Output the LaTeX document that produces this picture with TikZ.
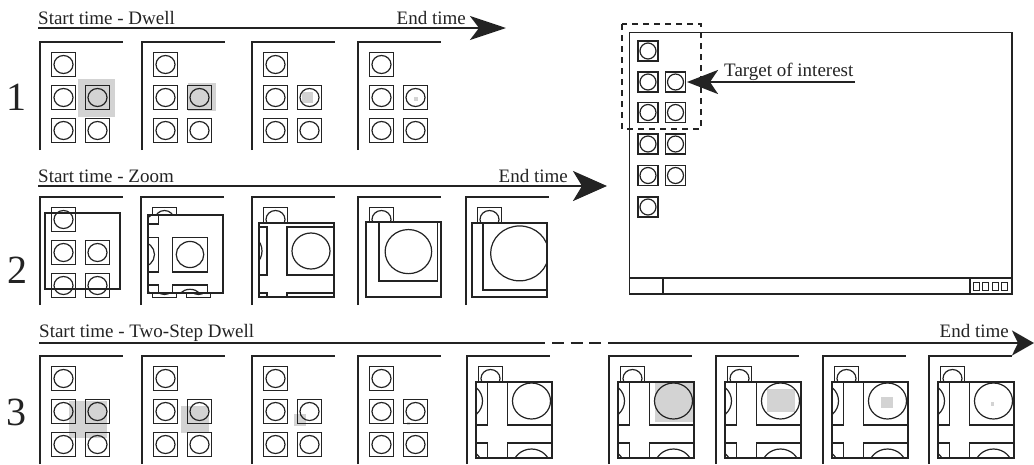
\documentclass[tikz,border=0pt]{standalone}
\usepackage{fontspec}
\setmainfont{Liberation Serif}
\usetikzlibrary{arrows.meta}
\definecolor{hl}{RGB}{211,211,211}
\definecolor{ink}{RGB}{35,35,35}
\tikzset{
  frm/.style={draw=ink, line width=1.3pt},
  ico/.style={draw=ink, line width=1.2pt},
  lbl/.style={inner sep=0pt, text=ink, font=\fontsize{19}{21}\selectfont},
  num/.style={inner sep=0pt, text=ink, font=\fontsize{40}{42}\selectfont},
  tline/.style={draw=ink, line width=2.6pt},
  bighead/.style={-{Stealth[length=36pt,width=24pt,inset=9pt]}},
}
\newcommand\icongrid{%
  \foreach \a/\b in {-34/-33,-34/0,0/0,-34/33,0/33}{%
    \draw[ico] (\a-12,\b-12) rectangle (\a+12,\b+12);
    \draw[ico] (\a,\b) ellipse [x radius=9.5, y radius=9];}}
\newcommand\framelines[3]{\draw[frm] (#1,#3) -- (#1,#2) -- ({#1+83},#2);}
\newcommand\origicons[2]{\begin{scope}[shift={({#1+57.5},{#2+55.5})}]\icongrid\end{scope}}
\newcommand\zoomview[8]{%
  \fill[white] (#1,#2) rectangle (#3,#4);
  \begin{scope}
    \clip (#1,#2) rectangle (#3,#4);
    #8
    \begin{scope}[shift={(#5,#6)},scale=#7]\icongrid\end{scope}
  \end{scope}
  \draw[ico] (#1,#2) rectangle (#3,#4);}
\newcommand\sicon[2]{%
  \draw[ico] ({#1-10},{#2-10}) rectangle ({#1+10},{#2+10});
  \draw[ico] (#1,#2) circle [radius=8];}
\begin{document}
\begin{tikzpicture}[x=1pt,y=-1pt]
\useasboundingbox (0,0) rectangle (1034,464);

% ---------- Row 1 ----------
\node[lbl, anchor=base west] (t1) at (38,24) {Start time - Dwell};
\node[lbl, anchor=base east] (e1) at (466,24) {End time};
\coordinate (a1s) at (38,28); \coordinate (a1e) at (506,28);
\draw[tline, bighead] (a1s) -- (a1e);
\node[num, anchor=base] (n1) at (16,110) {1};
\framelines{40}{42}{150} \fill[hl] (78,79) rectangle (115,117); \origicons{40}{42}
\framelines{142}{42}{150} \fill[hl] (188,83) rectangle (216,111); \origicons{142}{42}
\framelines{252}{42}{150} \fill[hl] (302,92) rectangle (313,103); \origicons{252}{42}
\framelines{358}{42}{150} \fill[hl] (413.5,96.5) rectangle (417.5,100.5); \origicons{358}{42}

% ---------- Row 2 ----------
\node[lbl, anchor=base west] (t2) at (38,182) {Start time - Zoom};
\node[lbl, anchor=base east] (e2) at (568,182) {End time};
\coordinate (a2s) at (38,186); \coordinate (a2e) at (607,186);
\draw[tline, -{Stealth[length=34pt,width=30pt,inset=9pt]}] (a2s) -- (a2e);
\node[num, anchor=base] (n2) at (17,283) {2};
\framelines{40}{197}{305} \origicons{40}{197} \draw[ico] (45,213) rectangle (120,289);
\framelines{141}{197}{305} \origicons{141}{197} \zoomview{148}{215}{223}{293}{190}{254.5}{1.45}{}
\framelines{252}{197}{305} \origicons{252}{197} \zoomview{259}{223}{334}{297}{311}{251}{2}{}
\framelines{358}{197}{305} \origicons{358}{197} \zoomview{366}{222}{441}{297}{408.4}{251.6}{2.45}{}
\framelines{466}{197}{305} \origicons{466}{197} \zoomview{472}{223}{547}{297}{519.6}{253.4}{3.05}{}

% ---------- Row 3 ----------
\node[lbl, anchor=base west] (t3) at (39,337) {Start time - Two-Step Dwell};
\node[lbl, anchor=base east] (e3) at (1009,337) {End time};
\coordinate (a3s) at (39,343); \coordinate (a3m) at (545,343);
\coordinate (a3d) at (552,343); \coordinate (a3f) at (602,343);
\coordinate (a3r) at (608,343); \coordinate (a3e) at (1034,343);
\draw[tline] (a3s) -- (a3m);
\draw[tline, dash pattern=on 12pt off 6.5pt] (a3d) -- (a3f);
\draw[tline, -{Stealth[length=22pt,width=25pt,inset=6pt]}] (a3r) -- (a3e);
\node[num, anchor=base] (n3) at (16.5,425) {3};
\framelines{40}{356}{464} \fill[hl] (69,401) rectangle (107,438); \origicons{40}{356}
\framelines{142}{356}{464} \fill[hl] (181,406) rectangle (209,433); \origicons{142}{356}
\framelines{252}{356}{464} \fill[hl] (294,414) rectangle (306,426); \origicons{252}{356}
\framelines{358}{356}{464} \fill[hl] (406.5,421.5) rectangle (409.5,424.5); \origicons{358}{356}
\framelines{467}{356}{464} \origicons{467}{356} \zoomview{476}{382}{552}{458}{531.5}{401}{2}{}
\framelines{609}{356}{464} \origicons{609}{356} \zoomview{618}{382}{694}{458}{673.5}{401}{2}{\fill[hl] (654.5,380) rectangle (694,422);}
\framelines{716}{356}{464} \origicons{716}{356} \zoomview{725}{382}{801}{458}{780.5}{401}{2}{\fill[hl] (767,389) rectangle (795,412);}
\framelines{823}{356}{464} \origicons{823}{356} \zoomview{832}{382}{908}{458}{887.5}{401}{2}{\fill[hl] (881,397) rectangle (893,408);}
\framelines{929}{356}{464} \origicons{929}{356} \zoomview{938}{382}{1014}{458}{993.5}{401}{2}{\fill[hl] (991,402) rectangle (994,406);}

% ---------- Screen ----------
\draw[draw=ink, line width=1.4pt] (629.5,32.5) rectangle (1012,294);
\draw[ico] (629.5,278) -- (1012,278);
\draw[ico] (663,278) -- (663,294);
\draw[draw=ink, line width=1.8pt] (970,278) rectangle (1012,294);
\foreach \k in {0,1,2,3}{\draw[draw=ink, line width=1.1pt] ({973.5+9.3*\k},282.5) rectangle ({979.5+9.3*\k},290.5);}
\sicon{648}{51}
\sicon{648}{82} \sicon{675.5}{82}
\sicon{648}{112.5} \sicon{675.5}{112.5}
\sicon{648}{144} \sicon{675.5}{144}
\sicon{648}{175.5} \sicon{675.5}{175.5}
\sicon{648}{207}
\draw[draw=ink, line width=1.2pt, dash pattern=on 6pt off 5pt] (622,24) rectangle (701,129);
\node[lbl, anchor=base west] (tg) at (724,76) {Target of interest};
\coordinate (tas) at (855,82); \coordinate (tae) at (687,82);
\draw[tline, -{Stealth[length=31pt,width=24pt,inset=8pt]}] (tas) -- (tae);
\end{tikzpicture}
\end{document}
